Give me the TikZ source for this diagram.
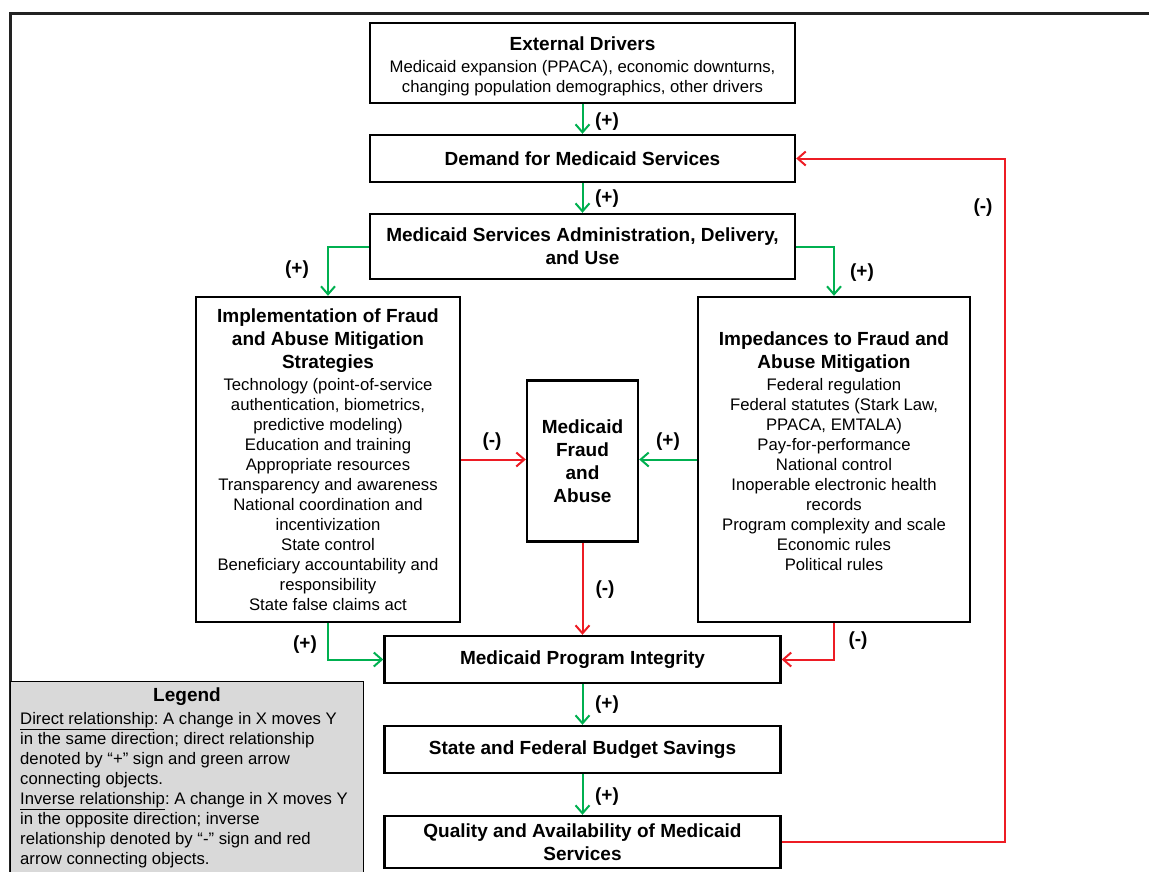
\documentclass[tikz,border=0pt]{standalone}
\usepackage{fontspec}
\setmainfont{Liberation Sans}
\usetikzlibrary{arrows.meta}
\definecolor{posgreen}{RGB}{0,176,80}
\definecolor{negred}{RGB}{237,28,36}
\definecolor{legendgrey}{RGB}{217,217,217}
\definecolor{framegrey}{RGB}{34,34,34}
\newcommand{\bodyfs}{\fontsize{16.7}{20}\selectfont\mdseries}
\newcommand{\titlefs}{\fontsize{19}{23}\selectfont\bfseries}
% extra room below the last line of a box text (negative moves the text down)
\newcommand{\tailspace}[1]{\par\vspace{#1}\hrule height 0pt}
\frenchspacing

\begin{document}
\begin{tikzpicture}[x=1pt,y=-1pt,
  box/.style={draw=black, line width=2.4pt, inner sep=0pt, align=flush center, font=\titlefs},
  posarrow/.style={draw=posgreen, line width=2pt, -{Straight Barb[length=8pt,width=14pt]}},
  negarrow/.style={draw=negred, line width=2pt, -{Straight Barb[length=8pt,width=14pt]}},
  sign/.style={font=\titlefs, inner sep=0pt}]
\useasboundingbox (0,0) rectangle (1149,871);

% outer frame
\draw[framegrey, line width=3pt] (1155,13) -- (10,13) -- (10,880);

% chain of boxes
\node[box, minimum width=425, minimum height=80, text width=420] (ext) at (582.5,63)
  {{\titlefs External Drivers\par}\vspace{2pt}{\bodyfs Medicaid expansion (PPACA), economic downturns,\\changing population demographics, other drivers\par}\tailspace{-6pt}};
\node[box, minimum width=425, minimum height=47] (dem) at (582.5,158.5) {Demand for Medicaid Services};
\node[box, minimum width=425, minimum height=65] (adm) at (582.5,246.5)
  {Medicaid Services Administration, Delivery,\\and Use};

\node[box, minimum width=264, minimum height=325, text width=258] (impl) at (328,459.5)
  {{\titlefs Implementation of Fraud\\and Abuse Mitigation\\Strategies\par}\vspace{2pt}
   {\bodyfs Technology (point-of-service\\authentication, biometrics,\\predictive modeling)\\Education and training\\Appropriate resources\\Transparency and awareness\\National coordination and\\incentivization\\State control\\Beneficiary accountability and\\responsibility\\State false claims act\par}};

\node[box, minimum width=272, minimum height=325, text width=266] (imp) at (834,459.5)
  {{\titlefs Impedances to Fraud and\\Abuse Mitigation\par}\vspace{2pt}
   {\bodyfs Federal regulation\\Federal statutes (Stark Law,\\PPACA, EMTALA)\\Pay-for-performance\\National control\\Inoperable electronic health\\records\\Program complexity and scale\\Economic rules\\Political rules\par}\tailspace{17pt}};

\node[box, minimum width=111, minimum height=161] (fraud) at (582.5,461) {Medicaid\\Fraud\\and\\Abuse};

\node[box, minimum width=396, minimum height=47] (pi) at (582.5,659.5) {Medicaid Program Integrity};
\node[box, minimum width=396, minimum height=47] (bud) at (582.5,749.5) {State and Federal Budget Savings};
\node[box, minimum width=396, minimum height=52] (qual) at (582.5,842) {Quality and Availability of Medicaid\\Services};

% legend
\node[draw=black, line width=1pt, fill=legendgrey, anchor=north west, minimum width=353, minimum height=200, inner sep=0pt] (legend) at (10,681) {};
\node[font=\titlefs, inner sep=0pt] (legtitle) at (187,697) {Legend};
\node[anchor=north west, align=flush left, inner sep=0pt, font=\bodyfs] (legbody) at (20,712)
  {\underline{Direct relationship}: A change in X moves Y\\
   in the same direction; direct relationship\\
   denoted by “+” sign and green arrow\\
   connecting objects.\\
   \underline{Inverse relationship}: A change in X moves Y\\
   in the opposite direction; inverse\\
   relationship denoted by “-” sign and red\\
   arrow connecting objects.};

% connectors
\coordinate (loop) at (1005,500);
\draw[posarrow] (ext) -- (dem);
\draw[posarrow] (dem) -- (adm);
\draw[posarrow] (adm.west) -| (impl.north);
\draw[posarrow] (adm.east) -| (imp.north);
\draw[negarrow] (impl.east) -- (impl.east -| fraud.west);
\draw[posarrow] (imp.west) -- (imp.west -| fraud.east);
\draw[negarrow] (fraud.south) -- (pi.north);
\draw[posarrow] (impl.south) |- (pi.west);
\draw[negarrow] (imp.south) |- (pi.east);
\draw[posarrow] (pi) -- (bud);
\draw[posarrow] (bud) -- (qual);
\draw[negarrow] (qual.east) -| (loop) |- (dem.east);

% signs
\node[sign] (s1) at (607,122) {(+)};
\node[sign] (s2) at (607,199) {(+)};
\node[sign] (s3) at (297,270) {(+)};
\node[sign] (s4) at (862,273) {(+)};
\node[sign] (s5) at (492,442) {(-)};
\node[sign] (s6) at (668,442) {(+)};
\node[sign] (s7) at (605,590) {(-)};
\node[sign] (s8) at (305,645) {(+)};
\node[sign] (s9) at (858,641) {(-)};
\node[sign] (s10) at (607,705) {(+)};
\node[sign] (s11) at (607,797) {(+)};
\node[sign] (s12) at (983,208) {(-)};
\end{tikzpicture}
\end{document}
